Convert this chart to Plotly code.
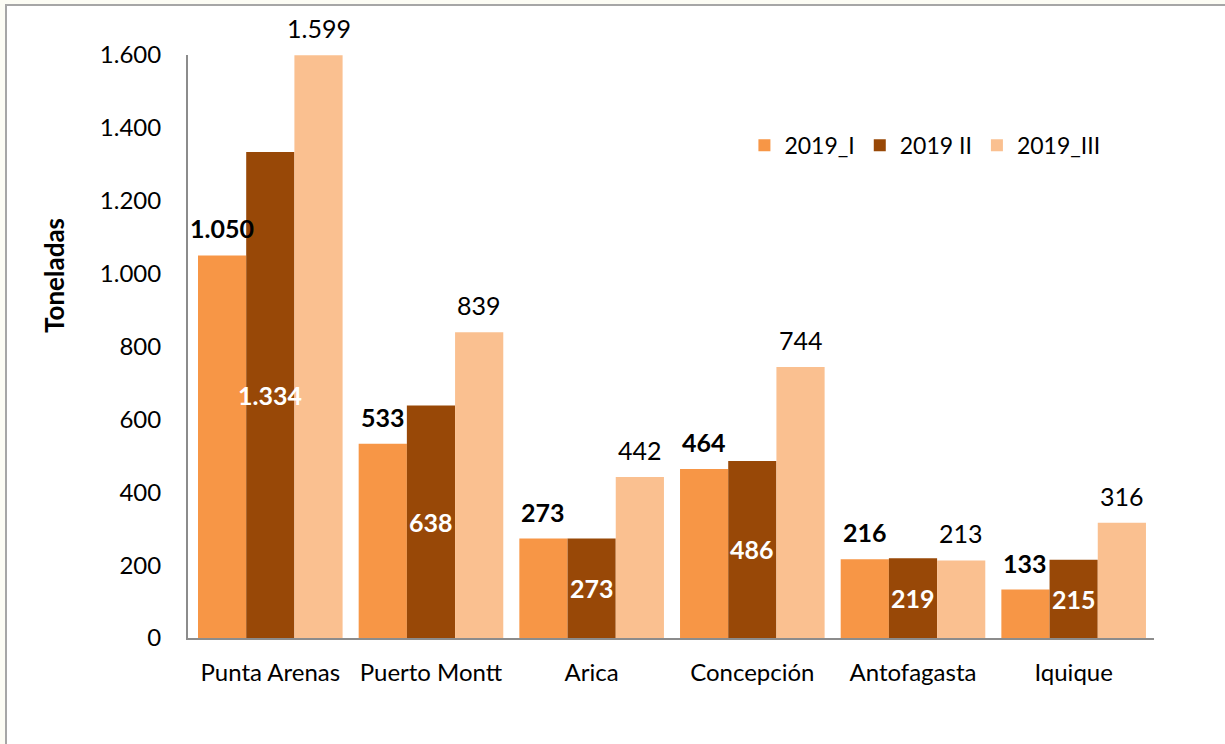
import plotly.graph_objects as go

categories = ["Punta Arenas", "Puerto Montt", "Arica", "Concepción", "Antofagasta", "Iquique"]
series_names = ["2019_I", "2019 II", "2019_III"]
v2019_I = [1050, 533, 273, 464, 216, 133]
v2019_II = [1334, 638, 273, 486, 219, 215]
v2019_III = [1599, 839, 442, 744, 213, 316]
y_ticks = [0, 200, 400, 600, 800, 1000, 1200, 1400, 1600]
y_title = "Toneladas"

FONT = "Lato"
COLORS = ["#F79646", "#984807", "#FAC090"]


def fmt(v):
    return f"{v:,}".replace(",", ".")


fig = go.Figure()
for name, vals, col in zip(series_names, [v2019_I, v2019_II, v2019_III], COLORS):
    fig.add_bar(x=categories, y=vals, name=name, marker_color=col, marker_line_width=0)

BAR_PX = 48.3
ann = []
for c, v in zip(categories, v2019_I):
    ann.append(dict(x=c, y=v, text=f"<b>{fmt(v)}</b>", xshift=-BAR_PX, yshift=10,
                    yanchor="bottom", showarrow=False,
                    font=dict(size=25, color="black", family=FONT)))
for c, v in zip(categories, v2019_II):
    ann.append(dict(x=c, y=v / 2, text=f"<b>{fmt(v)}</b>", yanchor="middle", showarrow=False,
                    font=dict(size=25, color="white", family=FONT)))
for c, v in zip(categories, v2019_III):
    ann.append(dict(x=c, y=v, text=fmt(v), xshift=BAR_PX, yshift=10,
                    yanchor="bottom", showarrow=False,
                    font=dict(size=25, color="black", family=FONT)))
ann.append(dict(xref="paper", yref="paper", x=-0.1387, y=0.621, text=f"<b>{y_title}</b>",
                textangle=-90, showarrow=False, xanchor="center", yanchor="middle",
                font=dict(size=26, color="black", family=FONT)))

fig.update_layout(
    width=1225, height=744,
    barmode="group", bargap=0.1, bargroupgap=0,
    separators=",.",
    paper_bgcolor="#fcfcf4", plot_bgcolor="white",
    margin=dict(l=188, r=71, t=55, b=106),
    font=dict(family=FONT, size=24, color="black"),
    legend=dict(orientation="h", x=0.576, y=0.845, xanchor="left", yanchor="middle",
                font=dict(size=23, family=FONT), itemwidth=30, traceorder="normal",
                bgcolor="rgba(0,0,0,0)"),
    showlegend=True,
    annotations=ann,
)
fig.update_xaxes(showline=True, linecolor="#8c8c8c", linewidth=2, ticks="",
                 tickfont=dict(size=24, family=FONT), ticklabelstandoff=12)
fig.update_yaxes(range=[0, 1600], tickvals=y_ticks, tickformat=",d", showgrid=False,
                 showline=True, linecolor="#8c8c8c", linewidth=2, ticks="",
                 ticklabelstandoff=20, tickfont=dict(size=24, family=FONT),
                 zeroline=False)
fig.add_shape(type="rect", xref="paper", yref="paper", x0=-0.1884, x1=1.2, y0=-0.3, y1=1.0858,
              line=dict(color="#a6a6a6", width=2), fillcolor="white", layer="below")
fig.write_html("out.html", post_script="document.body.style.margin='0';",
               config={"displayModeBar": False})
